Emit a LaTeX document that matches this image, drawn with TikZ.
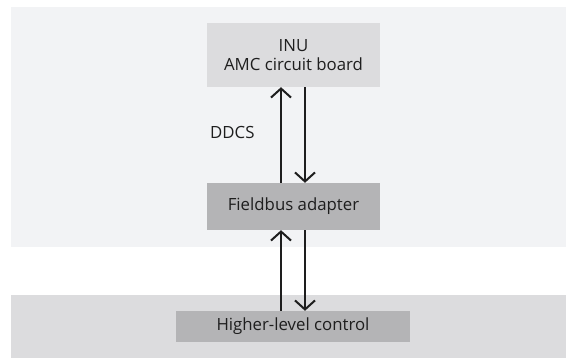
\documentclass[tikz,border=0pt]{standalone}
\usepackage{fontspec}
\setmainfont{Open Sans}
\usetikzlibrary{arrows.meta}
\definecolor{bandlight}{HTML}{F2F3F5}
\definecolor{boxlight}{HTML}{DCDCDE}
\definecolor{boxdark}{HTML}{B4B4B6}
\definecolor{ink}{HTML}{1E1E1E}
\tikzset{
  lbl/.style={font=\fontsize{16.8}{19.5}\selectfont, text=ink},
  blk/.style={inner sep=0pt, lbl, align=center},
  conn/.style={draw=ink, line width=2pt, -{Straight Barb[length=9pt,width=20pt,line width=2pt]}},
}
\begin{document}
\begin{tikzpicture}[x=1pt,y=-1pt]
\useasboundingbox (0,0) rectangle (566,358);
\fill[white] (0,0) rectangle (566,358);
\fill[bandlight] (11,7) rectangle (566,247);
\fill[boxlight] (11,295) rectangle (566,358);
\node[blk, fill=boxlight, minimum width=173pt, minimum height=64pt] (inu) at (293.5,55) {INU\\AMC circuit board};
\node[blk, fill=boxdark, minimum width=173pt, minimum height=47pt] (fb) at (293.5,206.5) {Fieldbus adapter};
\node[blk, fill=boxdark, minimum width=234pt, minimum height=31pt] (hl) at (293,326.5) {Higher-level control};
\node[lbl, anchor=west, inner sep=0pt] (ddcs) at (210,133) {DDCS};
\draw[conn] (fb.north -| 281,0) -- (inu.south -| 281,0);
\draw[conn] (inu.south -| 305,0) -- (fb.north -| 305,0);
\draw[conn] (hl.north -| 281,0) -- (fb.south -| 281,0);
\draw[conn] (fb.south -| 305,0) -- (hl.north -| 305,0);
\end{tikzpicture}
\end{document}
